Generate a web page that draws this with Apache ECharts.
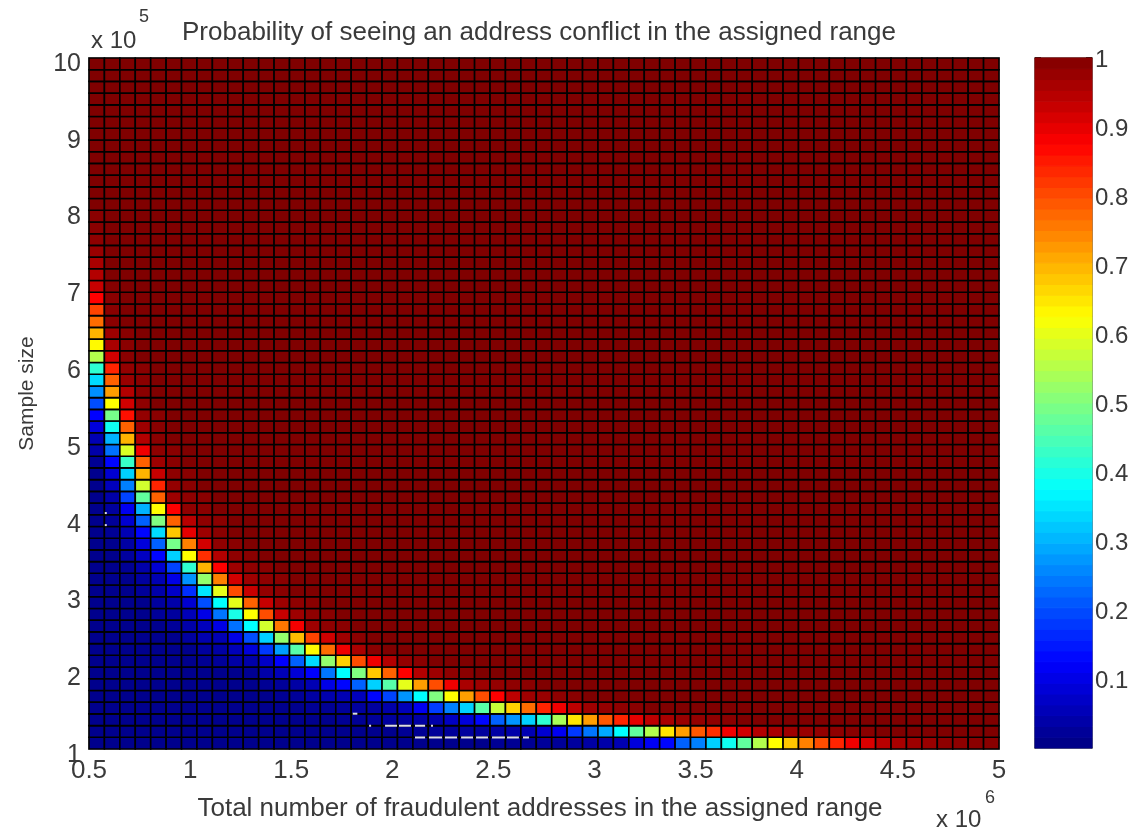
<!DOCTYPE html>
<html><head><meta charset="utf-8">
<style>html,body{margin:0;padding:0;background:#fff}#c{width:1135px;height:831px}</style>
<script src="https://cdn.jsdelivr.net/npm/echarts@6/dist/echarts.min.js"></script>
</head><body><div id="c"></div>
<script>
// x: fraudulent addresses (x 10^6), y: sample size (x 10^5). 59 x 59 cells.
const colCount = 59, rowCount = 59;
const xMin = 0.5, xMax = 5, yMin = 1, yMax = 10;
const floorValue = 0.013;   // deep-blue region left of the band
const ceilValue = 1;        // dark-red region right of the band
// first column listed for each row (bottom row first)
const bandStart = [26,20,16,14,12,11,10,7,7,6,5,4,4,3,3,2,2,2,1,1,1,1,1,0,0,0,0,0,0,0,0,0,0,0,0,0,0,0,0,0,0,0,0,0,0,0];
// values, from bandStart onward (bottom row first)
const bandValues = [
 [.02,.02,.02,.025,.025,.03,.035,.04,.05,.09,.115,.13,.22,.25,.33,.39,.47,.55,.625,.68,.75,.80,.84,.89,.91,.945,.96,.97,.975,.985,.985,.99,.99],
 [.02,.02,.025,.025,.03,.03,.035,.04,.05,.08,.11,.18,.24,.29,.375,.47,.55,.65,.72,.79,.83,.89,.92,.95,.96,.97,.975,.98,.985,.99,.99],
 [.02,.02,.025,.03,.03,.035,.04,.065,.09,.13,.22,.27,.33,.42,.54,.65,.72,.79,.84,.90,.94,.96,.975,.98,.985,.99],
 [.02,.02,.025,.03,.03,.04,.055,.11,.185,.25,.33,.46,.57,.67,.77,.84,.89,.94,.97,.98,.985,.99],
 [.02,.025,.035,.045,.05,.06,.13,.19,.27,.375,.50,.625,.72,.80,.875,.94,.97,.975,.985,.99],
 [.02,.025,.035,.05,.10,.13,.22,.33,.46,.60,.72,.80,.89,.96,.97,.98,.985,.99],
 [.02,.04,.055,.085,.125,.24,.375,.50,.68,.78,.875,.95,.97,.985,.99],
 [.02,.025,.035,.04,.07,.125,.22,.34,.52,.67,.80,.89,.95,.98,.99],
 [.03,.035,.055,.09,.18,.28,.46,.63,.77,.89,.96,.99],
 [.03,.045,.05,.10,.20,.33,.52,.69,.81,.92,.97,.99],
 [.025,.04,.06,.10,.235,.375,.58,.76,.885,.97,.985,.99],
 [.025,.03,.055,.10,.24,.40,.625,.80,.93,.97,.985,.99],
 [.03,.04,.08,.20,.375,.60,.78,.93,.97,.985,.99],
 [.025,.04,.07,.17,.35,.60,.80,.93,.98,.99],
 [.03,.05,.10,.27,.52,.75,.92,.97,.985,.99],
 [.02,.04,.08,.19,.42,.70,.875,.97,.985,.99],
 [.03,.065,.13,.33,.625,.83,.95,.985,.99],
 [.035,.09,.22,.49,.75,.92,.985,.99],
 [.02,.05,.13,.34,.68,.90,.97,.99],
 [.025,.08,.22,.50,.78,.945,.985,.99],
 [.03,.11,.30,.625,.875,.985,.99],
 [.04,.19,.47,.78,.97,.985,.99],
 [.06,.25,.58,.84,.98,.99],
 [.015,.08,.33,.70,.93,.985,.99],
 [.02,.13,.43,.78,.97,.99],
 [.04,.235,.59,.89,.985,.99],
 [.05,.30,.70,.95,.99],
 [.09,.39,.78,.97,.99],
 [.125,.49,.86,.98,.99],
 [.20,.625,.92,.985],
 [.266,.72,.95,.99],
 [.34,.78,.975,.99],
 [.42,.84,.98,.99],
 [.55,.92,.99],
 [.63,.96,.99],
 [.70,.97,.99],
 [.77,.99],
 [.81,.99],
 [.875,.99],
 [.93,.995],
 [.95],
 [.96],
 [.975],
 [.985],
 [.99],
 [.99]
];
// stray light dashes in the picture: [x1, x2, y]
const specks = [
 [.578,.588,4.073],[.578,.588,3.916],
 [1.804,1.827,1.46],
 [1.885,1.895,1.303],[1.964,2.023,1.303],[2.033,2.092,1.303],[2.112,2.162,1.303],[2.191,2.201,1.303],
 [2.112,2.162,1.15],[2.181,2.246,1.15],[2.26,2.32,1.15],[2.34,2.399,1.15],[2.414,2.473,1.15],[2.493,2.557,1.15],[2.567,2.626,1.15],[2.646,2.676,1.15]
];
const jetStops = ['#000080','#0000ff','#0080ff','#00ffff','#80ff80','#ffff00','#ff8000','#ff0000','#800000'];
const colorbarLevelCount = 64;
const colorbarTicks = [.1,.2,.3,.4,.5,.6,.7,.8,.9,1];
const titleText = 'Probability of seeing an address conflict in the assigned range';
const xLabelText = 'Total number of fraudulent addresses in the assigned range';
const yLabelText = 'Sample size';

const dx = (xMax - xMin) / colCount, dy = (yMax - yMin) / rowCount;
const cells = [];
for (let r = 0; r < rowCount; r++) {
  const vals = bandValues[r] || [];
  const start = r < bandStart.length ? bandStart[r] : 0;
  for (let c = 0; c < colCount; c++) {
    let v;
    if (c < start) v = floorValue;
    else if (c - start < vals.length) v = vals[c - start];
    else v = ceilValue;
    cells.push([xMin + c * dx, yMin + r * dy, v]);
  }
}
const barCells = [];
for (let i = 0; i < colorbarLevelCount; i++) barCells.push([i / colorbarLevelCount, (i + 1) / colorbarLevelCount, (i + .5) / colorbarLevelCount]);

const font = '"Liberation Sans",Arial,sans-serif';
const ink = '#3a3a3a', frame = '#9a9a9a';
const L = 89, T = 58, W = 910, H = 691;

const chart = echarts.init(document.getElementById('c'));
function fmtNum(v){ return String(+v.toFixed(2)); }
chart.setOption({
  backgroundColor: '#fff',
  animation: false,
  title: {text: titleText, left: 534, top: 15, textAlign: 'center',
    textStyle: {fontFamily: font, fontWeight: 'normal', fontSize: 26, color: ink}},
  grid: [
    {left: L, top: T, width: W, height: H},
    {left: 1035, top: 58, width: 57, height: 690}
  ],
  visualMap: {show: false, min: 0, max: 1, dimension: 2, seriesIndex: [0, 2], inRange: {color: jetStops}},
  xAxis: [
    {type: 'value', gridIndex: 0, min: xMin, max: xMax, interval: 0.5, splitLine: {show: false},
     name: xLabelText, nameLocation: 'middle', nameGap: 47,
     nameTextStyle: {fontFamily: font, fontSize: 26, color: ink, padding: [0, 8, 0, 0]},
     axisLine: {onZero: false, lineStyle: {color: frame, width: 1.5}}, axisTick: {show: false},
     axisLabel: {fontFamily: font, fontSize: 26, color: ink, margin: 9, formatter: fmtNum, showMinLabel: true, showMaxLabel: true}},
    {type: 'value', gridIndex: 0, position: 'top', min: xMin, max: xMax, interval: 0.5, splitLine: {show: false},
     axisLine: {onZero: false, lineStyle: {color: frame, width: 1.5}}, axisTick: {show: false}, axisLabel: {show: false}},
    {type: 'value', gridIndex: 1, min: 0, max: 1, show: true, splitLine: {show: false},
     axisLine: {onZero: false, lineStyle: {color: '#555', width: 1.5}}, axisTick: {show: false}, axisLabel: {show: false}},
    {type: 'value', gridIndex: 1, position: 'top', min: 0, max: 1, splitLine: {show: false},
     axisLine: {onZero: false, lineStyle: {color: '#555', width: 1.5}}, axisTick: {show: false}, axisLabel: {show: false}}
  ],
  yAxis: [
    {type: 'value', gridIndex: 0, min: yMin, max: yMax, interval: 1, splitLine: {show: false},
     name: yLabelText, nameLocation: 'middle', nameGap: 51, nameRotate: 90,
     nameTextStyle: {fontFamily: font, fontSize: 21, color: ink, padding: [0, 0, 0, 20]},
     axisLine: {onZero: false, lineStyle: {color: frame, width: 1.5}}, axisTick: {show: false},
     axisLabel: {fontFamily: font, fontSize: 25, color: ink, margin: 8, verticalAlign: 'top', lineHeight: 12, formatter: fmtNum}},
    {type: 'value', gridIndex: 0, position: 'right', min: yMin, max: yMax, interval: 1, splitLine: {show: false},
     axisLine: {onZero: false, lineStyle: {color: frame, width: 1.5}}, axisTick: {show: false}, axisLabel: {show: false}},
    {type: 'value', gridIndex: 1, position: 'right', min: 0, max: 1, interval: 0.1, splitLine: {show: false},
     axisLine: {onZero: false, lineStyle: {color: '#555', width: 1.5}},
     axisTick: {inside: true, length: 6, customValues: colorbarTicks, lineStyle: {color: '#000', width: 1.5}},
     axisLabel: {fontFamily: font, fontSize: 24, color: ink, margin: 3, verticalAlign: 'top', lineHeight: 5, customValues: colorbarTicks, formatter: fmtNum}},
    {type: 'value', gridIndex: 1, position: 'left', min: 0, max: 1, interval: 0.1, splitLine: {show: false},
     axisLine: {onZero: false, lineStyle: {color: '#555', width: 1.5}},
     axisTick: {inside: true, length: 6, customValues: colorbarTicks, lineStyle: {color: '#000', width: 1.5}}, axisLabel: {show: false}}
  ],
  series: [
    {type: 'custom', xAxisIndex: 0, yAxisIndex: 0, clip: false, data: cells, encode: {x: 0, y: 1},
     renderItem: (p, api) => {
       const x = api.value(0), y = api.value(1);
       const a = api.coord([x, y + dy]), b = api.coord([x + dx, y]);
       return {type: 'rect', shape: {x: a[0], y: a[1], width: b[0] - a[0], height: b[1] - a[1]},
               style: {fill: api.visual('color'), stroke: '#000', lineWidth: 1.6}};
     }},
    {type: 'custom', xAxisIndex: 0, yAxisIndex: 0, clip: false, data: specks, encode: {x: [0, 1], y: 2},
     renderItem: (p, api) => {
       const a = api.coord([api.value(0), api.value(2)]), b = api.coord([api.value(1), api.value(2)]);
       return {type: 'line', shape: {x1: a[0], y1: a[1], x2: b[0], y2: b[1]},
               style: {stroke: '#dcdce6', lineWidth: 2}};
     }},
    {type: 'custom', xAxisIndex: 2, yAxisIndex: 2, data: barCells, encode: {y: [0, 1]},
     dimensions: ['lo', 'hi', 'level'],
     renderItem: (p, api) => {
       const a = api.coord([0, api.value(1)]), b = api.coord([1, api.value(0)]);
       const c = api.visual('color');
       return {type: 'rect', shape: {x: a[0], y: a[1], width: b[0] - a[0], height: b[1] - a[1]},
               style: {fill: c, stroke: c, lineWidth: 1}};
     }}
  ],
  graphic: [
    {type: 'text', left: 91, top: 29, style: {text: 'x 10', font: '24px ' + font, fill: ink}},
    {type: 'text', left: 139, top: 8, style: {text: '5', font: '18px ' + font, fill: ink}},
    {type: 'text', left: 936, top: 808, style: {text: 'x 10', font: '24px ' + font, fill: ink}},
    {type: 'text', left: 985, top: 789, style: {text: '6', font: '18px ' + font, fill: ink}}
  ]
});
</script></body></html>
